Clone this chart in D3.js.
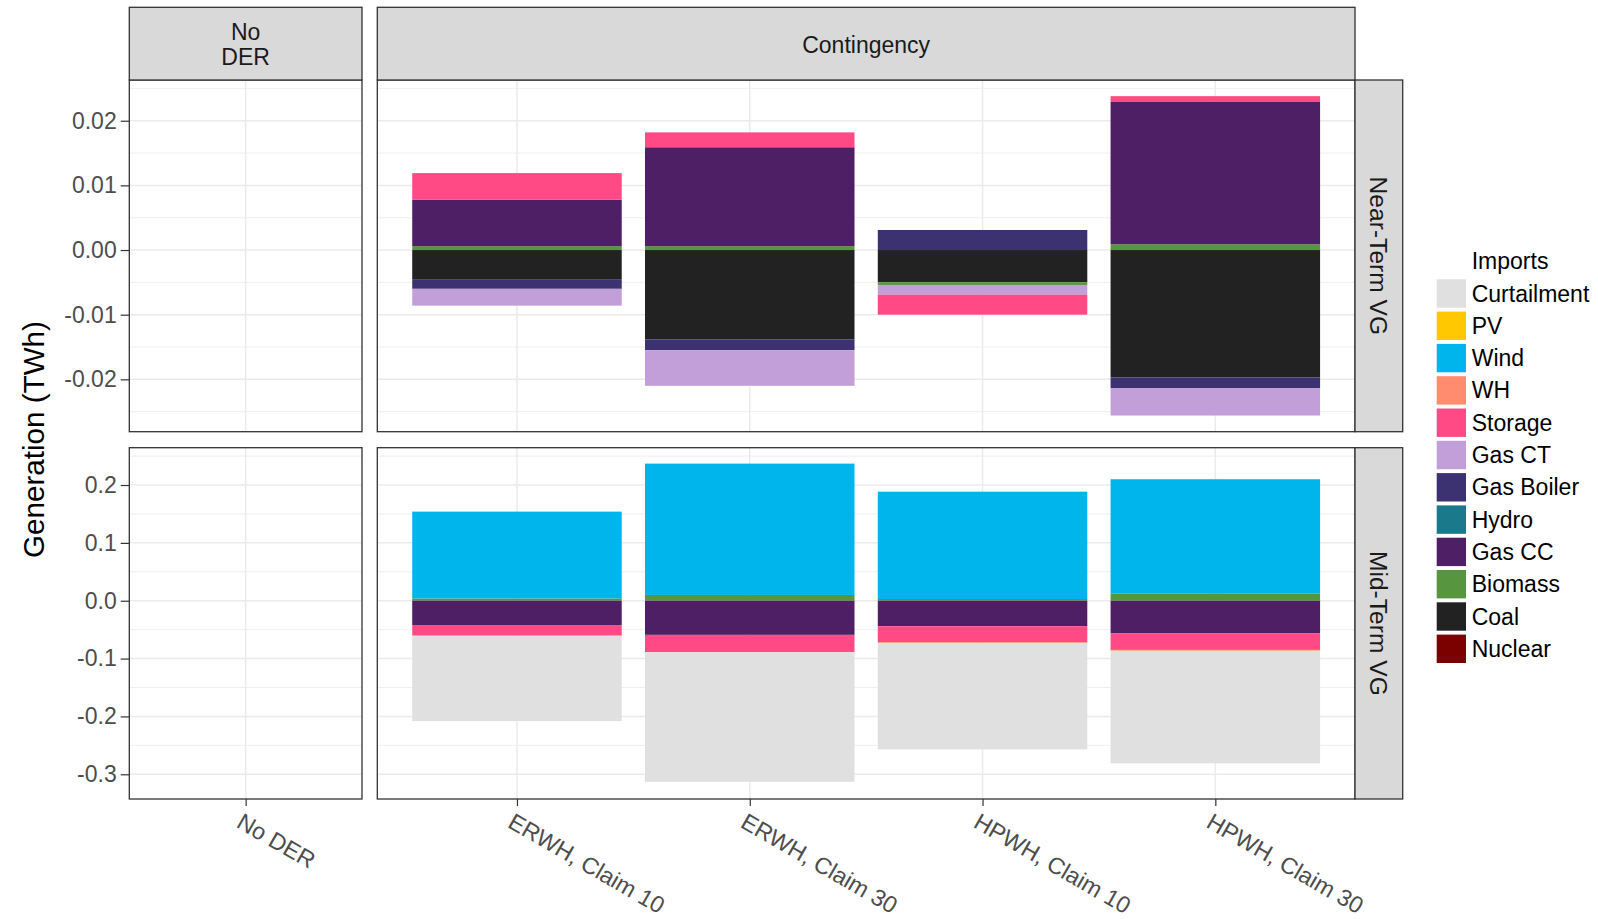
<!DOCTYPE html>
<html>
<head>
<meta charset="utf-8">
<script src="https://cdn.jsdelivr.net/npm/d3@7"></script>
<style>
  html, body { margin: 0; padding: 0; background: #ffffff; }
  svg { display: block; font-family: "Liberation Sans", Arial, sans-serif; }
</style>
</head>
<body>
<svg id="chart" width="1598" height="919"></svg>
<script>
// ---- categories and facets ----
const baselineCategories = ["No DER"];
const scenarioCategories = ["ERWH, Claim 10", "ERWH, Claim 30", "HPWH, Claim 10", "HPWH, Claim 30"];
const columnFacets = [["No", "DER"], ["Contingency"]];
const rowFacets = ["Near-Term VG", "Mid-Term VG"];

// legend order (top to bottom) and fills
const sources = ["Imports", "Curtailment", "PV", "Wind", "WH", "Storage", "Gas CT",
                 "Gas Boiler", "Hydro", "Gas CC", "Biomass", "Coal", "Nuclear"];
const sourceColors = ["#FFFFFF", "#E0E0E0", "#FFC800", "#00B4EC", "#FF8C6E", "#FF4A86", "#C29FD8",
                      "#3C3272", "#1A7A8C", "#4F1F66", "#57963F", "#222222", "#7B0000"];

// ---- Near-Term VG: change in generation (TWh), per scenario ----
const nearStorage   = [0.0041, 0.0023, -0.0031, 0.0009];
const nearGasCT     = [-0.0026, -0.0055, -0.0015, -0.0042];
const nearGasBoiler = [-0.0015, -0.0017, 0.0031, -0.0017];
const nearGasCC     = [0.0072, 0.0153, 0.0000, 0.0220];
const nearBiomass   = [0.0006, 0.0006, -0.0004, 0.0009];
const nearCoal      = [-0.0045, -0.0138, -0.0050, -0.0197];

// ---- Mid-Term VG: change in generation (TWh), per scenario ----
const midCurtailment = [-0.147, -0.224, -0.1835, -0.1945];
const midWind        = [0.150, 0.227, 0.1855, 0.198];
const midWH          = [-0.001, 0.000, -0.0015, -0.0015];
const midStorage     = [-0.018, -0.030, -0.028, -0.029];
const midGasCC       = [-0.042, -0.059, -0.044, -0.056];
const midBiomass     = [0.004, 0.010, 0.003, 0.012];

// ---- axis ticks ----
const nearTicks = [0.02, 0.01, 0.00, -0.01, -0.02];
const nearTickLabels = ["0.02", "0.01", "0.00", "-0.01", "-0.02"];
const nearMinor = [0.025, 0.015, 0.005, -0.005, -0.015, -0.025];
const midTicks = [0.2, 0.1, 0.0, -0.1, -0.2, -0.3];
const midTickLabels = ["0.2", "0.1", "0.0", "-0.1", "-0.2", "-0.3"];
const midMinor = [0.25, 0.15, 0.05, -0.05, -0.15, -0.25];

// build one record per scenario with every source present
function buildRows(seriesBySource) {
  return scenarioCategories.map((cat, i) => {
    const row = { category: cat };
    sources.forEach(s => { row[s] = seriesBySource[s] ? seriesBySource[s][i] : 0; });
    return row;
  });
}
const nearRows = buildRows({
  "Storage": nearStorage, "Gas CT": nearGasCT, "Gas Boiler": nearGasBoiler,
  "Gas CC": nearGasCC, "Biomass": nearBiomass, "Coal": nearCoal
});
const midRows = buildRows({
  "Curtailment": midCurtailment, "Wind": midWind, "WH": midWH, "Storage": midStorage,
  "Gas CC": midGasCC, "Biomass": midBiomass
});

// ---- layout ----
const svg = d3.select("#chart");
const colorOf = d3.scaleOrdinal().domain(sources).range(sourceColors);
const leftPanel = { x0: 129.3, x1: 362 };
const rightPanel = { x0: 377.3, x1: 1355 };
const rows = [
  { y0: 80, y1: 431.7, domain: [-0.0281, 0.0263], data: nearRows, ticks: nearTicks, labels: nearTickLabels, minor: nearMinor, facet: rowFacets[0] },
  { y0: 447.7, y1: 799, domain: [-0.3427, 0.2645], data: midRows, ticks: midTicks, labels: midTickLabels, minor: midMinor, facet: rowFacets[1] }
];
const stripTop = { y0: 7.3, y1: 80 };
const stripRight = { x0: 1355, x1: 1402.7 };

const xLeft = d3.scalePoint().domain(baselineCategories).range([leftPanel.x0, leftPanel.x1]).padding(0.5);
const xRight = d3.scalePoint().domain(scenarioCategories).range([rightPanel.x0, rightPanel.x1]).padding(0.6);
const barWidth = xRight.step() * 0.9;

// stacking order outward from zero (reverse of legend order)
const stackKeys = sources.slice().reverse();
const stacker = d3.stack().keys(stackKeys).offset(d3.stackOffsetDiverging);

const gridColor = "#EBEBEB";
const borderColor = "#333333";

rows.forEach(r => {
  const y = d3.scaleLinear().domain(r.domain).range([r.y1, r.y0]);
  const panels = [
    { x: xLeft, x0: leftPanel.x0, x1: leftPanel.x1, cats: baselineCategories },
    { x: xRight, x0: rightPanel.x0, x1: rightPanel.x1, cats: scenarioCategories }
  ];

  panels.forEach(p => {
    const g = svg.append("g");
    g.append("rect").attr("x", p.x0).attr("y", r.y0).attr("width", p.x1 - p.x0).attr("height", r.y1 - r.y0)
      .attr("fill", "#ffffff");
    // minor grid
    g.selectAll(".minor").data(r.minor).join("line")
      .attr("x1", p.x0).attr("x2", p.x1).attr("y1", d => y(d)).attr("y2", d => y(d))
      .attr("stroke", gridColor).attr("stroke-width", 0.8);
    // major grid
    g.selectAll(".majorY").data(r.ticks).join("line")
      .attr("x1", p.x0).attr("x2", p.x1).attr("y1", d => y(d)).attr("y2", d => y(d))
      .attr("stroke", gridColor).attr("stroke-width", 1.5);
    g.selectAll(".majorX").data(p.cats).join("line")
      .attr("x1", d => p.x(d)).attr("x2", d => p.x(d)).attr("y1", r.y0).attr("y2", r.y1)
      .attr("stroke", gridColor).attr("stroke-width", 1.5);
  });

  // stacked bars (scenario panel)
  const series = stacker(r.data);
  const barsG = svg.append("g");
  series.forEach(s => {
    barsG.selectAll(null).data(s.filter(d => d[1] - d[0] !== 0)).join("rect")
      .attr("x", d => xRight(d.data.category) - barWidth / 2)
      .attr("width", barWidth)
      .attr("y", d => y(Math.max(d[0], d[1])))
      .attr("height", d => Math.abs(y(d[0]) - y(d[1])))
      .attr("fill", colorOf(s.key));
  });

  // panel borders
  panels.forEach(p => {
    svg.append("rect").attr("x", p.x0).attr("y", r.y0).attr("width", p.x1 - p.x0).attr("height", r.y1 - r.y0)
      .attr("fill", "none").attr("stroke", borderColor).attr("stroke-width", 1.3);
  });

  // y axis
  const yAxis = d3.axisLeft(y).tickValues(r.ticks)
    .tickFormat((d, i) => r.labels[i]).tickSize(8.6).tickPadding(4);
  const ya = svg.append("g").attr("transform", `translate(${leftPanel.x0},0)`).call(yAxis);
  ya.select(".domain").remove();
  ya.selectAll(".tick line").attr("stroke", borderColor).attr("stroke-width", 1.2);
  ya.selectAll(".tick text").attr("fill", "#4D4D4D").style("font-size", "23px")
    .style("font-family", "'Liberation Sans', Arial, sans-serif");

  // right strip
  svg.append("rect").attr("x", stripRight.x0).attr("y", r.y0).attr("width", stripRight.x1 - stripRight.x0)
    .attr("height", r.y1 - r.y0).attr("fill", "#D9D9D9").attr("stroke", borderColor).attr("stroke-width", 1.3);
  const cx = (stripRight.x0 + stripRight.x1) / 2, cy = (r.y0 + r.y1) / 2;
  svg.append("text").attr("transform", `translate(${cx},${cy}) rotate(90)`)
    .attr("text-anchor", "middle").attr("dominant-baseline", "central")
    .attr("fill", "#1A1A1A").style("font-size", "24.6px").text(r.facet);
});

// top strips
[[leftPanel, columnFacets[0]], [rightPanel, columnFacets[1]]].forEach(([p, lines]) => {
  svg.append("rect").attr("x", p.x0).attr("y", stripTop.y0).attr("width", p.x1 - p.x0)
    .attr("height", stripTop.y1 - stripTop.y0).attr("fill", "#D9D9D9")
    .attr("stroke", borderColor).attr("stroke-width", 1.3);
  const cx = (p.x0 + p.x1) / 2, cy = (stripTop.y0 + stripTop.y1) / 2;
  const lh = 25.5;
  lines.forEach((t, i) => {
    svg.append("text").attr("x", cx).attr("y", cy + (i - (lines.length - 1) / 2) * lh + 1)
      .attr("text-anchor", "middle").attr("dominant-baseline", "central")
      .attr("fill", "#1A1A1A").style("font-size", "23px").text(t);
  });
});

// x axes
const bottomY = rows[1].y1;
[xLeft, xRight].forEach(xs => {
  const ax = svg.append("g").attr("transform", `translate(0,${bottomY})`)
    .call(d3.axisBottom(xs).tickSize(7).tickFormat(""));
  ax.select(".domain").remove();
  ax.selectAll(".tick line").attr("stroke", borderColor).attr("stroke-width", 1.2);
  svg.append("g").selectAll("text").data(xs.domain()).join("text")
    .attr("transform", d => `translate(${xs(d) - 2},${bottomY + 13}) rotate(30)`)
    .attr("text-anchor", "start").attr("dy", "0.72em")
    .attr("fill", "#4D4D4D").style("font-size", "23.3px").text(d => d);
});

// y axis title
svg.append("text").attr("transform", `translate(33.5,${(rows[0].y0 + rows[1].y1) / 2}) rotate(-90)`)
  .attr("text-anchor", "middle").attr("dominant-baseline", "central")
  .attr("fill", "#000000").style("font-size", "29.6px").text("Generation (TWh)");

// legend
const legend = svg.append("g").attr("transform", "translate(1436.7,261.2)");
const rowH = 32.3;
sources.forEach((s, i) => {
  const g = legend.append("g").attr("transform", `translate(0,${i * rowH})`);
  g.append("rect").attr("x", 0).attr("y", -14.2).attr("width", 29.3).attr("height", 28.4)
    .attr("fill", colorOf(s));
  g.append("text").attr("x", 35).attr("y", 0).attr("dominant-baseline", "central")
    .attr("fill", "#000000").style("font-size", "23px").text(s);
});
</script>
</body>
</html>
